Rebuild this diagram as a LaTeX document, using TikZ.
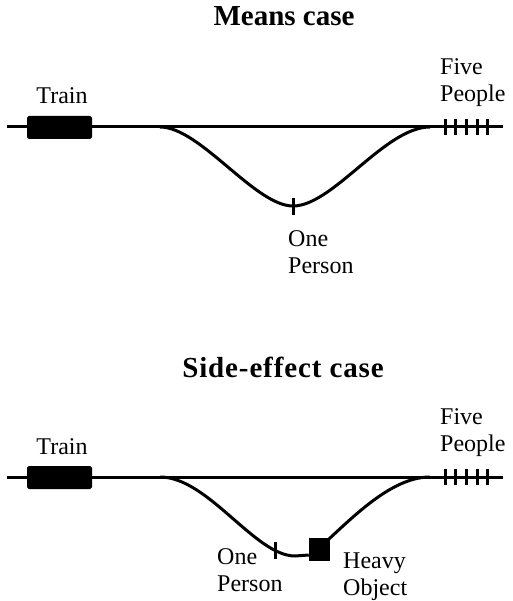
\documentclass[tikz,border=0pt]{standalone}
\usepackage{fontspec}
\setmainfont{Liberation Serif}
\begin{document}
\begin{tikzpicture}[x=1pt,y=-1pt,
  track/.style={line width=3pt},
  wagon/.style={fill=black,draw=black,line width=1pt,rounded corners=1.5pt,
    minimum width=64pt,minimum height=22pt,inner sep=0pt},
  weight/.style={fill=black,draw=black,line width=0.5pt,
    minimum width=20pt,minimum height=22pt,inner sep=0pt},
  victim/.style={line width=3pt},
  title/.style={font=\fontsize{29}{34}\selectfont\bfseries,inner sep=0pt},
  lbl/.style={font=\fontsize{24}{27}\selectfont,inner sep=0pt,align=left,anchor=north west}]
\useasboundingbox (0,0) rectangle (512,601);

% ---------- Means case ----------
\node[title] (t1) at (284,16) {Means case};
\coordinate (a1) at (7,127);
\coordinate (b1) at (503,127);
\coordinate (s1) at (160,127);
\coordinate (m1) at (293,206);
\coordinate (e1) at (430,127);
\draw[track] (a1) -- (b1);
\draw[track] (s1) .. controls (200,127) and (255,206) .. (m1)
  .. controls (333,206) and (385,127) .. (e1);
\node[wagon] (tr1) at (59.5,127.5) {};
\node[lbl,anchor=base] (tl1) at (62,104) {Train};
\foreach \x in {445,455,466,477,487}
  \draw[victim] (\x,119) -- (\x,135);
\node[lbl] (fp1) at (440,58) {Five\\People};
\draw[victim] (m1) ++(0,-8) -- ++(0,17);
\node[lbl] (op1) at (288,230) {One\\Person};

% ---------- Side-effect case ----------
\node[title] (t2) at (283,367) {\addfontfeatures{LetterSpace=3}Side-effect case};
\coordinate (a2) at (7,477);
\coordinate (b2) at (503,477);
\coordinate (s2) at (160,477);
\coordinate (m2) at (295,556);
\coordinate (e2) at (430,477);
\draw[track] (a2) -- (b2);
\node[weight] (hv) at (319,549) {};
\draw[track] (s2) .. controls (208,477) and (255,556) .. (m2) -- (hv.west |- 0,555);
\draw[track] (hv.north east) ++(0,1) .. controls (360,510) and (395,477) .. (e2);
\node[wagon] (tr2) at (59.5,477.5) {};
\node[lbl,anchor=base] (tl2) at (62,454) {Train};
\foreach \x in {445,455,466,477,487}
  \draw[victim] (\x,469) -- (\x,485);
\node[lbl] (fp2) at (440,408) {Five\\People};
\draw[victim] (275,542) -- (275,559);
\node[lbl] (op2) at (217,548) {One\\Person};
\node[lbl] (ho) at (343,553) {Heavy\\Object};
\end{tikzpicture}
\end{document}
